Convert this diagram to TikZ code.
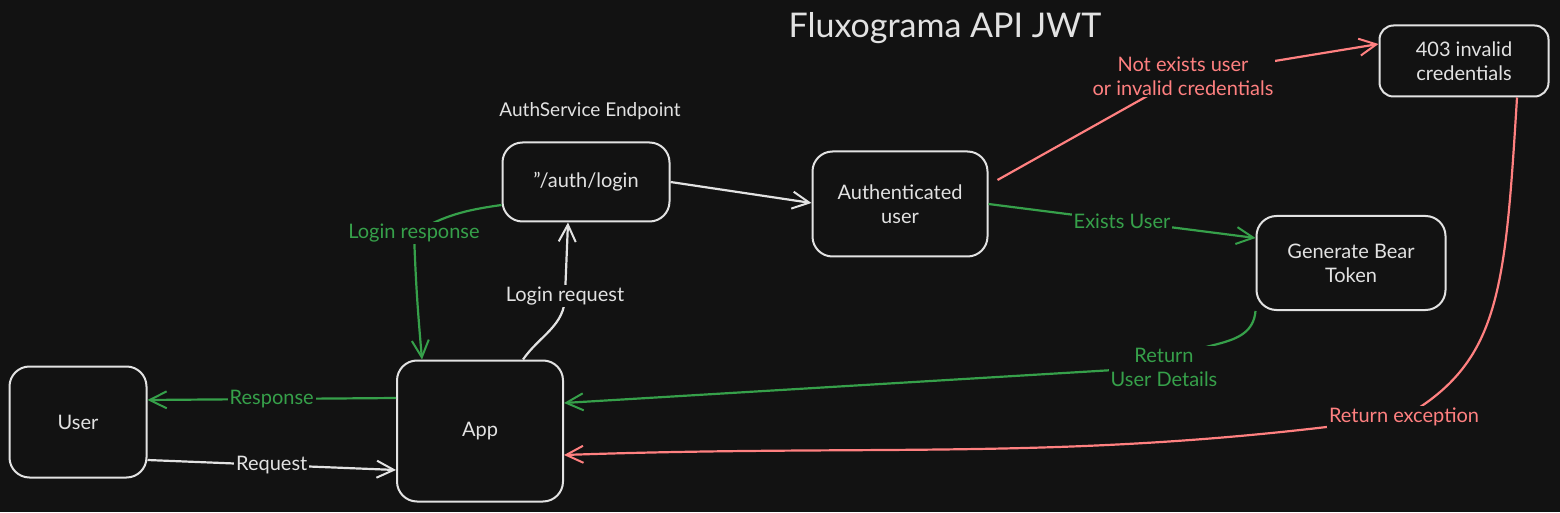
\documentclass[tikz,border=0pt]{standalone}
\usepackage{fontspec}
\setmainfont{Lato}
\usepackage{tikz}
\usetikzlibrary{positioning,arrows.meta}
\usepackage{xcolor}
\definecolor{bg}{HTML}{121212}
\definecolor{ink}{HTML}{E2E2E2}
\definecolor{okgreen}{HTML}{36A04A}
\definecolor{errred}{HTML}{FF8080}

\begin{document}
\begin{tikzpicture}[x=1pt, y=1pt,
  box/.style={draw=ink, line width=2pt, rounded corners=20pt, fill=bg, text=ink, align=center, font=\fontsize{20}{24}\selectfont},
  flow/.style={line width=2.2pt, -{Straight Barb[length=17pt,width=17pt,line width=2pt]}},
  lbl/.style={fill=bg, inner sep=2pt, align=center, font=\fontsize{20}{24}\selectfont}]
% canvas
\fill[bg] (0,0) rectangle (1560,512);
\useasboundingbox (0,0) rectangle (1560,512);
% titles
\node[text=ink, font=\fontsize{34}{40}\selectfont] (title) at (945,484) {Fluxograma API JWT};
\node[text=ink, font=\fontsize{19}{23}\selectfont] (endpoint) at (590,401) {AuthService Endpoint};
% boxes
\node[box, minimum width=137pt, minimum height=111pt] (user) at (78,90) {User};
\node[box, minimum width=166pt, minimum height=141pt] (app) at (480,81) {App};
\node[box, minimum width=167pt, minimum height=79pt] (login) at (586,330) {"/auth/login};
\node[box, minimum width=175pt, minimum height=105pt] (authuser) at (900,308) {Authenticated\\user};
\node[box, minimum width=189pt, minimum height=94pt] (token) at (1351,249) {Generate Bear\\Token};
\node[box, minimum width=169pt, minimum height=71pt, rounded corners=14pt] (invalid) at (1464,451) {403 invalid\\credentials};
% user <-> app
\draw[flow, ink] ([yshift=-38pt]user.east) -- node[lbl, text=ink] {Request} ([yshift=-39pt]app.west);
\draw[flow, okgreen] ([yshift=33pt]app.west) -- node[lbl, text=okgreen] {Response} ([yshift=22pt]user.east);
% app <-> login
\draw[flow, ink] ([xshift=43pt]app.north) to[out=55,in=-90] (565,216) node[lbl, text=ink] {Login request} -- ([xshift=-18pt]login.south);
\draw[flow, okgreen] ([yshift=-23pt]login.west) to[out=188,in=30] (414,279) node[lbl, text=okgreen] {Login response} to[out=-88,in=95] ([xshift=-58pt]app.north);
% login -> authenticated
\draw[flow, ink] (login.east) -- ([yshift=1pt]authuser.west);
% authenticated -> token / invalid
\draw[flow, okgreen] (authuser.east) -- node[lbl, text=okgreen] {Exists User} ([yshift=25pt]token.west);
\draw[flow, errred] ([shift={(9pt,24pt)}]authuser.east) -- (1183,436) node[lbl, text=errred] {Not exists user\\or invalid credentials} -- ([yshift=17pt]invalid.west);
% back to app
\draw[flow, okgreen] (token.south west) to[out=-95,in=45] (1164,145) node[lbl, text=okgreen] {Return\\User Details} -- ([yshift=28pt]app.east);
\draw[flow, errred] ([xshift=53pt]invalid.south) .. controls (1505,220) and (1500,150) .. (1404,95) node[lbl, text=errred] {Return exception} to[out=188,in=2] ([yshift=-24pt]app.east);
\end{tikzpicture}
\end{document}
